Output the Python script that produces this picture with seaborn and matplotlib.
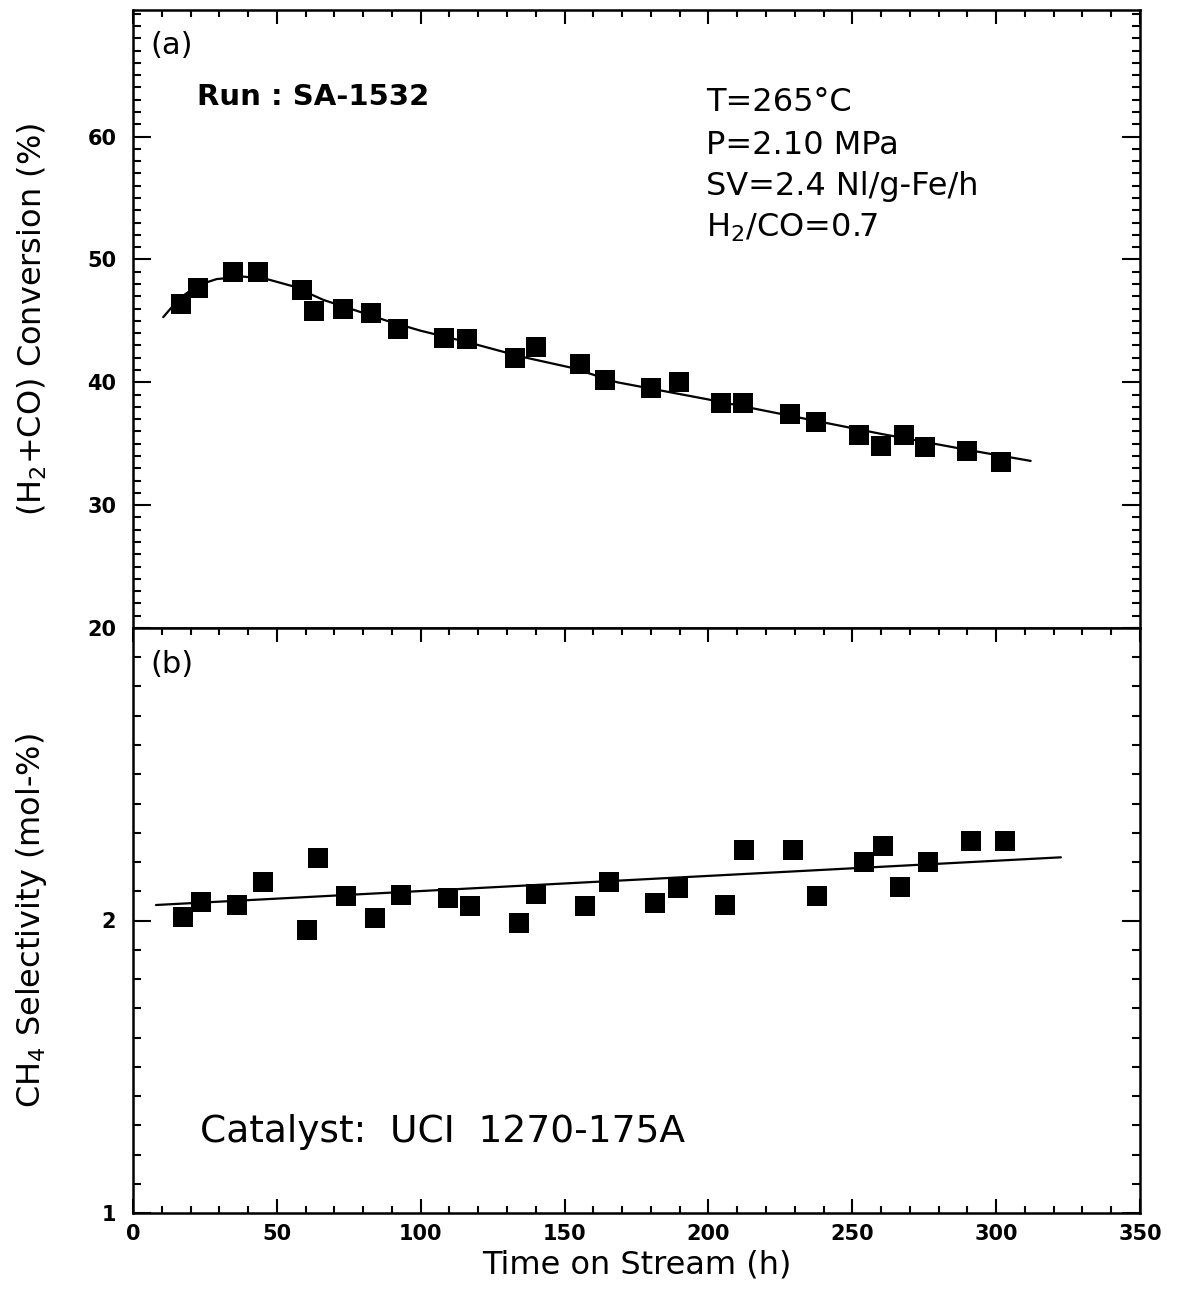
import numpy as np
import pandas as pd
import matplotlib
matplotlib.use("Agg")
import matplotlib.pyplot as plt
import seaborn as sns
from matplotlib.ticker import MultipleLocator, FixedLocator

# ---------------- data ----------------
conv_time = [16.7, 22.6, 34.8, 43.5, 58.8, 63.0, 73.1, 82.8, 92.2, 108.2, 116.2,
             132.6, 140.2, 155.2, 164.2, 180.2, 189.6, 204.3, 211.9, 228.3, 237.3,
             252.3, 259.9, 267.9, 275.2, 289.9, 301.7]
conv_value = [46.4, 47.7, 49.0, 49.0, 47.5, 45.8, 46.0, 45.6, 44.3, 43.6, 43.5,
              42.0, 42.9, 41.5, 40.2, 39.5, 40.0, 38.3, 38.3, 37.4, 36.8,
              35.7, 34.8, 35.7, 34.7, 34.4, 33.5]

conv_fit_time = [10.5, 16, 22.5, 29.1, 38.4, 46.5, 55.8, 66.2, 76.7, 88.3, 99.9,
                 117.3, 134.7, 152.1, 168.3, 200, 230, 260, 290, 312]
conv_fit_value = [45.3, 46.8, 47.9, 48.4, 48.6, 48.4, 47.8, 46.7, 45.9, 45.0, 44.2,
                  43.2, 42.1, 41.2, 40.0, 38.6, 37.2, 35.8, 34.5, 33.6]

ch4_time = [17.5, 23.7, 36.1, 45.1, 60.4, 64.3, 74.1, 84.2, 93.1, 109.5, 117.0,
            134.1, 140.1, 157.0, 165.4, 181.3, 189.4, 205.6, 212.4, 229.5, 237.9,
            253.9, 260.8, 266.6, 276.2, 291.2, 303.2]
ch4_value = [2.013, 2.064, 2.053, 2.133, 1.968, 2.213, 2.085, 2.008, 2.087, 2.076, 2.05,
             1.99, 2.09, 2.05, 2.133, 2.061, 2.11, 2.053, 2.241, 2.241, 2.084,
             2.201, 2.255, 2.114, 2.201, 2.273, 2.273]

ch4_fit_time = [8.0, 322.5]
ch4_fit_value = [2.053, 2.216]

x_ticks = [0, 50, 100, 150, 200, 250, 300, 350]
conv_ticks = [20, 30, 40, 50, 60]
ch4_ticks = [1, 2]

conv_df = pd.DataFrame({"time": conv_time, "value": conv_value})
conv_fit_df = pd.DataFrame({"time": conv_fit_time, "value": conv_fit_value})
ch4_df = pd.DataFrame({"time": ch4_time, "value": ch4_value})
ch4_fit_df = pd.DataFrame({"time": ch4_fit_time, "value": ch4_fit_value})

# ---------------- style ----------------
sns.set_style("ticks")
plt.rcParams["font.family"] = ["DejaVu Sans"]
plt.rcParams["text.color"] = "black"
plt.rcParams["axes.labelcolor"] = "black"
plt.rcParams["xtick.color"] = "black"
plt.rcParams["ytick.color"] = "black"

fig = plt.figure(figsize=(11.79, 12.93), dpi=100)
W, H = 1179, 1293
left, right = 133 / W, 1140 / W
ax1 = fig.add_axes([left, 1 - 628 / H, right - left, (628 - 10) / H])
ax2 = fig.add_axes([left, 1 - 1213 / H, right - left, (1213 - 628) / H], sharex=ax1)

# top panel
sns.lineplot(data=conv_fit_df, x="time", y="value", ax=ax1, color="black",
             linewidth=1.6, sort=False)
sns.scatterplot(data=conv_df, x="time", y="value", ax=ax1, marker="s", s=210,
                color="black", edgecolor="black", linewidth=0, zorder=3)

# bottom panel
sns.lineplot(data=ch4_fit_df, x="time", y="value", ax=ax2, color="black",
             linewidth=1.6, sort=False)
sns.scatterplot(data=ch4_df, x="time", y="value", ax=ax2, marker="s", s=210,
                color="black", edgecolor="black", linewidth=0, zorder=3)

ax1.set_xlim(0, 350)
ax1.set_ylim(20, 70.3)
ax2.set_ylim(1, 3)

for ax in (ax1, ax2):
    for sp in ax.spines.values():
        sp.set_linewidth(1.8)
        sp.set_color("black")
    ax.tick_params(which="both", direction="in", top=True, right=True,
                   width=1.5, colors="black")
    ax.tick_params(axis="y", which="major", length=13)
    ax.tick_params(axis="y", which="minor", length=6)
    ax.tick_params(axis="x", which="major", length=10)
    ax.tick_params(axis="x", which="minor", length=5)
    ax.xaxis.set_minor_locator(MultipleLocator(10))

ax1.tick_params(axis="x", which="both", bottom=False)

ax1.yaxis.set_major_locator(FixedLocator(conv_ticks))
ax1.yaxis.set_minor_locator(MultipleLocator(1))
ax2.yaxis.set_major_locator(FixedLocator(ch4_ticks))
ax2.yaxis.set_minor_locator(MultipleLocator(0.1))
ax2.xaxis.set_major_locator(FixedLocator(x_ticks))

ax1.tick_params(axis="x", labelbottom=False)
ax1.tick_params(axis="y", labelsize=15, pad=12)
ax2.tick_params(axis="y", labelsize=15, pad=12)
ax2.tick_params(axis="x", labelsize=15, pad=8)
for lab in ax1.get_yticklabels() + ax2.get_yticklabels() + ax2.get_xticklabels():
    lab.set_fontweight("bold")

ax1.set_xlabel("")
ax1.set_ylabel(r"(H$_2$+CO) Conversion (%)", fontsize=23)
ax2.set_ylabel(r"CH$_4$ Selectivity (mol-%)", fontsize=23)
ax2.set_xlabel("Time on Stream (h)", fontsize=23, labelpad=4)
ax1.yaxis.set_label_coords(-0.083, 0.5)
ax2.yaxis.set_label_coords(-0.083, 0.5)

# annotations
ax1.text(0.017, 0.943, "(a)", transform=ax1.transAxes, fontsize=22, va="center", ha="left")
ax1.text(0.064, 0.859, "Run : SA-1532", transform=ax1.transAxes, fontsize=21,
         fontweight="bold", va="center", ha="left")
cond_lines = ["T=265°C", "P=2.10 MPa", "SV=2.4 Nl/g-Fe/h", r"H$_2$/CO=0.7"]
cond_y = [0.850, 0.780, 0.714, 0.647]
for t, yy in zip(cond_lines, cond_y):
    ax1.text(0.569, yy, t, transform=ax1.transAxes, fontsize=23, va="center", ha="left")

ax2.text(0.017, 0.937, "(b)", transform=ax2.transAxes, fontsize=22, va="center", ha="left")
ax2.text(0.0665, 0.138, "Catalyst:  UCI  1270-175A", transform=ax2.transAxes,
         fontsize=27, va="center", ha="left")

fig.savefig("out.png", dpi=100)
